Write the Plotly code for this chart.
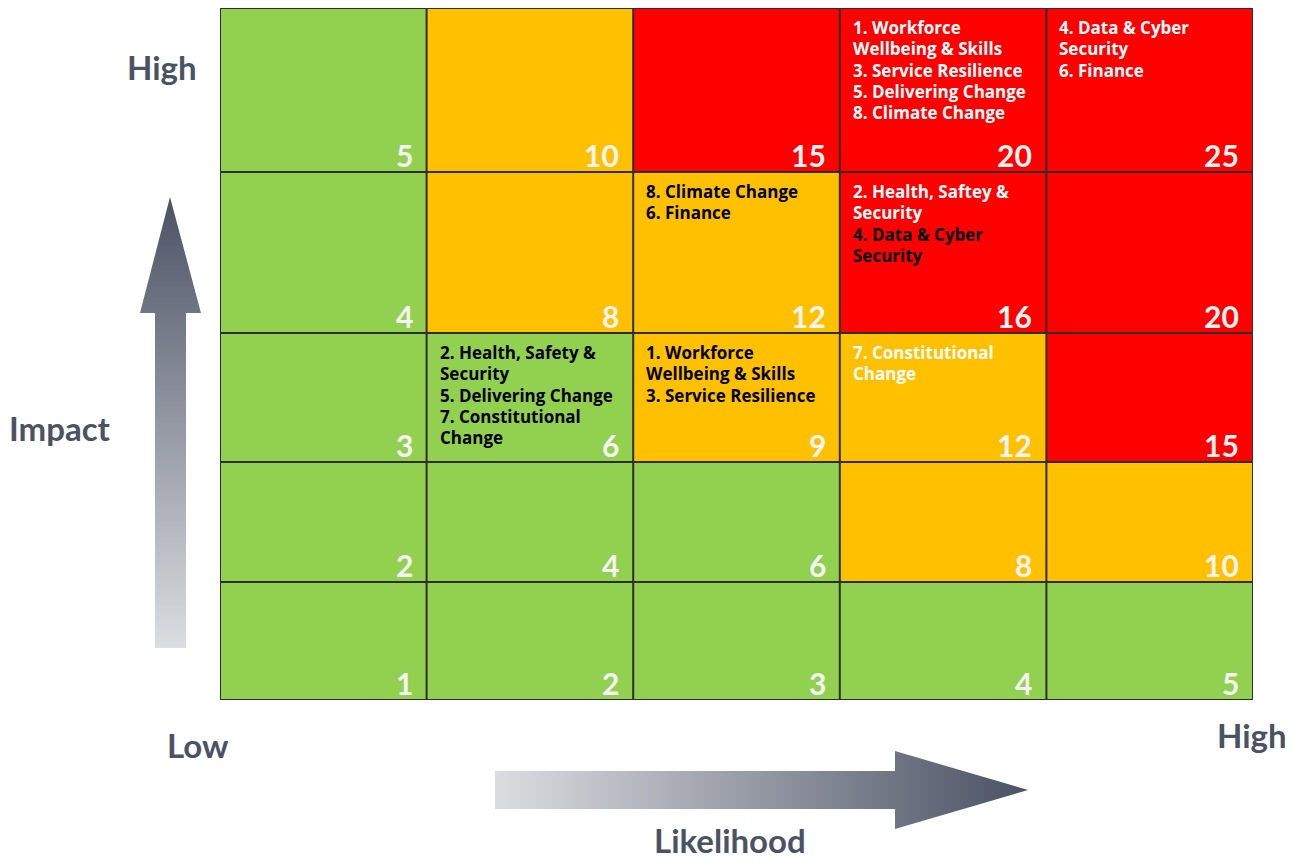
import plotly.graph_objects as go

# ---------------- data ----------------
likelihood = [1, 2, 3, 4, 5]
impact = [1, 2, 3, 4, 5]
# rating per cell: rows = impact 1..5, columns = likelihood 1..5 (0 green, 1 amber, 2 red)
ratings = [
    [0, 0, 0, 0, 0],
    [0, 0, 0, 1, 1],
    [0, 0, 1, 1, 2],
    [0, 1, 1, 2, 2],
    [0, 1, 2, 2, 2],
]
rating_colors = ["#92D050", "#FFC000", "#FF0000"]

risk_labels = [
    "1. Workforce|Wellbeing & Skills", "3. Service Resilience", "5. Delivering Change", "8. Climate Change",
    "4. Data & Cyber|Security", "6. Finance",
    "8. Climate Change", "6. Finance",
    "2. Health, Saftey &|Security", "4. Data & Cyber|Security",
    "2. Health, Safety &|Security", "5. Delivering Change", "7. Constitutional|Change",
    "1. Workforce|Wellbeing & Skills", "3. Service Resilience",
    "7. Constitutional|Change",
]
risk_likelihood = [4, 4, 4, 4, 5, 5, 3, 3, 4, 4, 2, 2, 2, 3, 3, 4]
risk_impact = [5, 5, 5, 5, 5, 5, 4, 4, 4, 4, 3, 3, 3, 3, 3, 3]
risk_text_color = ["white", "white", "white", "white", "white", "white",
                   "black", "black", "white", "black",
                   "black", "black", "black", "black", "black", "white"]

axis_labels = {"y_high": "High", "y_title": "Impact", "x_low": "Low", "x_high": "High", "x_title": "Likelihood"}

# ---------------- layout constants ----------------
W, H = 1293, 862          # browser window
OFF = 8                   # default page body margin
FW, FH = W - OFF, H - OFF # figure size
PLOT_L, PLOT_R, PLOT_T, PLOT_B = 220, 1253, 8, 700  # window pixels
ROW_HEIGHTS = [118, 120, 129, 161, 164]  # impact 1..5, pixels
row_edges = [0]
for h in ROW_HEIGHTS:
    row_edges.append(row_edges[-1] + h)
col_edges = [v - 0.5 for v in likelihood] + [likelihood[-1] + 0.5]
LABEL_COLOR = "#4B5264"
GRID_COLOR = "#2E2E2E"


def px_x(x):
    return (x - OFF) / FW


def px_y(y):
    return 1 - (y - OFF) / FH


fig = go.Figure()

fig.add_trace(go.Heatmap(
    x=col_edges, y=row_edges, z=ratings,
    zmin=0, zmax=2,
    colorscale=[[0, rating_colors[0]], [0.5, rating_colors[1]], [1, rating_colors[2]]],
    showscale=False, hoverinfo="skip", xaxis="x", yaxis="y",
))

shapes = []
for xe in col_edges:
    shapes.append(dict(type="line", xref="x", yref="y", x0=xe, x1=xe, y0=row_edges[0], y1=row_edges[-1],
                       line=dict(color=GRID_COLOR, width=2)))
for ye in row_edges:
    shapes.append(dict(type="line", xref="x", yref="y", x0=col_edges[0], x1=col_edges[-1], y0=ye, y1=ye,
                       line=dict(color=GRID_COLOR, width=2)))

annotations = []
for ri, imp in enumerate(impact):
    for ci, lik in enumerate(likelihood):
        annotations.append(dict(
            x=lik + 0.5, y=row_edges[ri], xref="x", yref="y",
            text=str(lik * imp), showarrow=False, xanchor="right", yanchor="bottom",
            xshift=-12, yshift=-3,
            font=dict(family="Lato", size=30, color="#F4F4F4", weight=700),
        ))

line_counter = {}
for lab_txt, lik, imp, col in zip(risk_labels, risk_likelihood, risk_impact, risk_text_color):
    key = (lik, imp)
    for line in lab_txt.split("|"):
        n = line_counter.get(key, 0)
        annotations.append(dict(
            x=lik - 0.5, y=row_edges[imp], xref="x", yref="y",
            text=line, showarrow=False, xanchor="left", yanchor="top",
            xshift=11, yshift=-6 - 21.3 * n,
            font=dict(family="Open Sans", size=17, color=col, weight=700),
        ))
        line_counter[key] = n + 1


def lab(txt, x, y):
    annotations.append(dict(x=px_x(x), y=px_y(y), xref="paper", yref="paper", text=txt, showarrow=False,
                            xanchor="center", yanchor="middle",
                            font=dict(family="Lato", size=33, color=LABEL_COLOR, weight=700)))


lab(axis_labels["y_high"], 162, 67)
lab(axis_labels["y_title"], 60, 428)
lab(axis_labels["x_low"], 198, 745)
lab(axis_labels["x_high"], 1252, 735)
lab(axis_labels["x_title"], 730, 840)

up_x = [155, 186, 186, 201, 170, 140, 155, 155]
up_y = [648, 648, 313, 313, 197, 313, 313, 648]
fig.add_trace(go.Scatter(
    x=up_x, y=up_y, xaxis="x2", yaxis="y2", mode="lines", line=dict(width=0),
    fill="toself", hoverinfo="skip", showlegend=False,
    fillgradient=dict(type="vertical", start=648, stop=197,
                      colorscale=[[0, "#DCDDE1"], [1, "#4B5264"]]),
))
rt_x = [495, 895, 895, 1028, 895, 895, 495, 495]
rt_y = [771, 771, 751, 790, 829, 809, 809, 771]
fig.add_trace(go.Scatter(
    x=rt_x, y=rt_y, xaxis="x2", yaxis="y2", mode="lines", line=dict(width=0),
    fill="toself", hoverinfo="skip", showlegend=False,
    fillgradient=dict(type="horizontal", start=495, stop=1028,
                      colorscale=[[0, "#DCDDE1"], [1, "#4B5264"]]),
))

fig.update_layout(
    width=FW, height=FH,
    margin=dict(l=0, r=0, t=0, b=0),
    paper_bgcolor="white", plot_bgcolor="rgba(0,0,0,0)",
    showlegend=False,
    xaxis=dict(domain=[px_x(PLOT_L), px_x(PLOT_R)], range=[col_edges[0], col_edges[-1]],
               showgrid=False, zeroline=False, showticklabels=False, ticks="", fixedrange=True),
    yaxis=dict(domain=[px_y(PLOT_B), px_y(PLOT_T)], range=[row_edges[0], row_edges[-1]],
               showgrid=False, zeroline=False, showticklabels=False, ticks="", fixedrange=True),
    xaxis2=dict(domain=[0, 1], range=[OFF, W], anchor="y2", visible=False, fixedrange=True),
    yaxis2=dict(domain=[0, 1], range=[H, OFF], anchor="x2", visible=False, fixedrange=True),
    shapes=shapes, annotations=annotations,
)

fig.write_html("out.html", config={"displayModeBar": False})
